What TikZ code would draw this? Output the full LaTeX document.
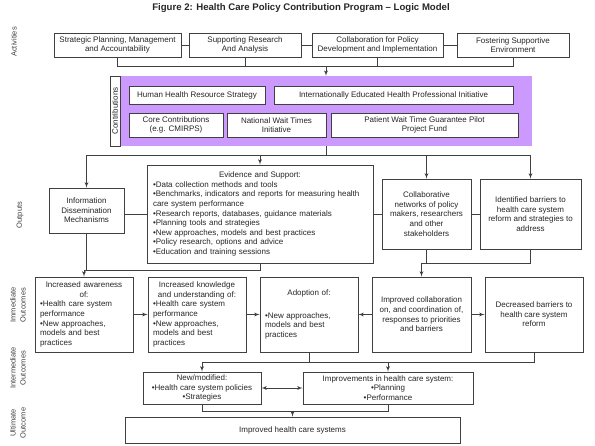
\documentclass[tikz,border=0pt]{standalone}
\usepackage{fontspec}
\setmainfont{Liberation Sans}
\usetikzlibrary{shapes,arrows}
\definecolor{boxline}{RGB}{64,64,64}
\definecolor{lilac}{RGB}{204,153,255}
\newcommand{\bul}{\textbullet}
\newcommand{\ctr}[1]{\makebox[\linewidth]{#1}}
\tikzstyle{block} = [rectangle, draw=boxline, line width=0.9pt, fill=white,
    align=center, inner sep=2pt, font=\fontsize{8}{9.6}\selectfont, text=black!85]
\tikzstyle{list} = [block, align=left, inner xsep=5pt]
\tikzstyle{line} = [draw=boxline, line width=0.8pt, -latex']
\tikzstyle{link} = [draw=boxline, line width=0.8pt]
\tikzstyle{side} = [rotate=90, align=center, font=\fontsize{7.5}{10}\selectfont, text=black!75]
\begin{document}
\begin{tikzpicture}[x=1pt, y=-1pt, auto]
\useasboundingbox (0,0) rectangle (595,446);
\node [font=\fontsize{9.6}{11}\selectfont\bfseries, text=black!85] (title) at (301,8)
    {Figure 2: Health Care Policy Contribution Program – Logic Model};
\node [side] (lact) at (14,42) {Activities};
\node [side] (lout) at (20,215) {Outputs};
\node [side] (limm) at (18,305) {Immediate\\Outcomes};
\node [side] (lint) at (18,368) {Intermediate\\Outcomes};
\node [side] (lult) at (18,423) {Ultimate\\Outcome};
\node [block, minimum width=127, minimum height=24] (plan) at (117.5,45)
    {Strategic Planning, Management\\and Accountability};
\node [block, minimum width=112, minimum height=24] (research) at (245,45)
    {Supporting Research\\And Analysis};
\node [block, minimum width=131, minimum height=24] (collab) at (377.5,45)
    {Collaboration for Policy\\Development and Implementation};
\node [block, minimum width=112, minimum height=24] (fostering) at (513,45)
    {Fostering Supportive\\Environment};
\node [rectangle, fill=lilac, minimum width=412, minimum height=70, inner sep=0] (contrib) at (326,111) {};
\node [block, rotate=90, minimum width=70, minimum height=10, inner sep=0] (contriblbl) at (115,111) {Contributions};
\node [block, minimum width=136, minimum height=18] (hhr) at (197,95) {Human Health Resource Strategy};
\node [block, minimum width=239, minimum height=18] (iehp) at (393.5,95)
    {Internationally Educated Health Professional Initiative};
\node [block, minimum width=94, minimum height=24] (core) at (176,125) {Core Contributions\\(e.g. CMIRPS)};
\node [block, minimum width=99, minimum height=24] (nwti) at (276.5,125) {National Wait Times\\Initiative};
\node [block, minimum width=187, minimum height=24] (pwtg) at (424.5,125)
    {Patient Wait Time Guarantee Pilot\\Project Fund};
\node [block, minimum width=75, minimum height=45] (info) at (86.5,210.5)
    {Information\\Dissemination\\Mechanisms};
\node [list, text width=214, inner xsep=6pt, minimum height=98] (evidence) at (260,214)
    {\ctr{Evidence and Support:}\\
     \bul Data collection methods and tools\\
     \bul Benchmarks, indicators and reports for measuring health\\
     care system performance\\
     \bul Research reports, databases, guidance materials\\
     \bul Planning tools and strategies\\
     \bul New approaches, models and best practices\\
     \bul Policy research, options and advice\\
     \bul Education and training sessions};
\node [block, minimum width=89, minimum height=70] (networks) at (426.5,214)
    {Collaborative\\networks of policy\\makers, researchers\\and other\\stakeholders};
\node [block, minimum width=101, minimum height=70] (barriers) at (530.5,214)
    {Identified barriers to\\health care system\\reform and strategies to\\address};
\node [list, text width=88, minimum height=75] (awareness) at (84,314.5)
    {\ctr{Increased awareness}\\ \ctr{of:}\\ \bul Health care system\\ performance\\
     \bul New approaches,\\ models and best\\ practices};
\node [list, text width=88, minimum height=75] (knowledge) at (197,314.5)
    {\ctr{Increased knowledge}\\ \ctr{and understanding of:}\\ \bul Health care system\\ performance\\
     \bul New approaches,\\ models and best\\ practices};
\node [list, text width=88, minimum height=75] (adoption) at (309,314.5)
    {\ctr{Adoption of:}\\[13pt] \bul New approaches,\\ models and best\\ practices};
\node [block, minimum width=99, minimum height=75] (coordination) at (421.5,314.5)
    {Improved collaboration\\on, and coordination of,\\responses to priorities\\and barriers};
\node [block, minimum width=98, minimum height=75] (decreased) at (534,314.5)
    {Decreased barriers to\\health care system\\reform};
\node [block, minimum width=118, minimum height=32] (policies) at (202,388)
    {New/modified:\\\bul Health care system policies\\\bul Strategies};
\node [block, minimum width=170, minimum height=32] (systemgain) at (388,388)
    {Improvements in health care system:\\\bul Planning\\\bul Performance};
\node [block, minimum width=335, minimum height=26] (improved) at (292.5,430) {Improved health care systems};
\coordinate (abar) at (326,66);
\coordinate (obar) at (326,155);
\coordinate (ibar) at (84,270);
\coordinate (jbar) at (421.5,263);
\coordinate (kbar) at (202,362);
\coordinate (ubar) at (292.5,411);
\path [link] (plan) -- (research);
\path [link] (research) -- (collab);
\path [link] (collab) -- (fostering);
\path [link] (plan.south) |- (fostering.south |- abar) -- (fostering.south);
\path [link] (research.south) -- (research.south |- abar);
\path [link] (collab.south) -- (collab.south |- abar);
\path [line] (abar) -- (abar |- contrib.north);
\path [link] (contrib.south -| obar) -- (obar);
\path [link] (info.north |- obar) -- (barriers.north |- obar);
\path [line] (info.north |- obar) -- (info.north);
\path [line] (evidence.north |- obar) -- (evidence.north);
\path [line] (networks.north |- obar) -- (networks.north);
\path [line] (barriers.north |- obar) -- (barriers.north);
\path [link] (info.east |- evidence.west) -- (evidence.west);
\path [link] (evidence) -- (networks);
\path [link] (networks) -- (barriers);
\path [link] (evidence.south) |- (ibar);
\path [link] (info.south) -- (info.south |- ibar);
\path [line] (ibar) -- (awareness.north);
\path [link] (barriers.south) |- (jbar);
\path [link] (networks.south) -- (networks.south |- jbar);
\path [line] (jbar) -- (coordination.north);
\path [line] (awareness) -- (knowledge);
\path [line] (knowledge) -- (adoption);
\path [line] (coordination) -- (adoption);
\path [line] (coordination) -- (decreased);
\path [link] (decreased.south) |- (kbar);
\path [link] (adoption.south) -- (adoption.south |- kbar);
\path [line] (kbar) -- (policies.north);
\path [line] (systemgain.north |- kbar) -- (systemgain.north);
\path [line, latex'-latex'] (policies) -- (systemgain);
\path [link] (policies.south) |- (systemgain.south |- ubar) -- (systemgain.south);
\path [line] (ubar) -- (improved.north);
\end{tikzpicture}
\end{document}
